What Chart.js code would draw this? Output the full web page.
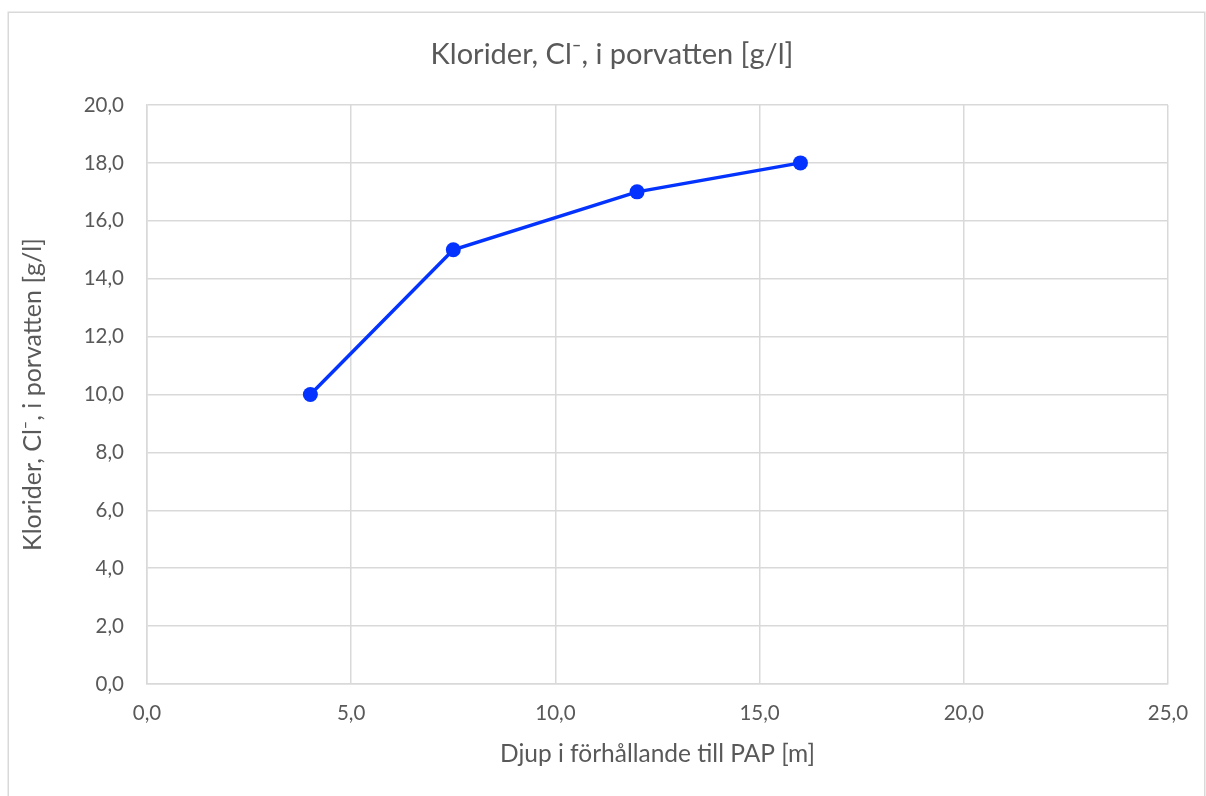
<!DOCTYPE html>
<html>
<head>
<meta charset="utf-8">
<script src="https://cdn.jsdelivr.net/npm/chart.js@4"></script>
<style>
  html, body { margin: 0; padding: 0; background: #ffffff; }
  #wrap { width: 1206px; height: 796px; }
</style>
</head>
<body>
<div id="wrap"><canvas id="c" width="1206" height="796"></canvas></div>
<script>
// Depth below reference level [m] and chloride content of the pore water [g/l]
const depth = [4.0, 7.5, 12.0, 16.0];
const chloride = [10.0, 15.0, 17.0, 18.0];

// Axis tick values
const xTickValues = [0, 5, 10, 15, 20, 25];
const yTickValues = [0, 2, 4, 6, 8, 10, 12, 14, 16, 18, 20];

const chartTitle = 'Klorider, Cl\u207B, i porvatten [g/l]';
const yAxisTitle = 'Klorider, Cl\u207B, i porvatten [g/l]';
const xAxisTitle = 'Djup i f\u00F6rh\u00E5llande till PAP [m]';

const FONT = 'Lato, "Open Sans", "DejaVu Sans", sans-serif';
const TEXT = '#595959';
const GRID = '#d9d9d9';
const LINE = '#0433ff';

const fmt = v => Number(v).toFixed(1).replace('.', ',');

// Light frame around the whole chart
const frame = {
  id: 'frame',
  beforeDraw(chart) {
    const ctx = chart.ctx;
    ctx.save();
    ctx.strokeStyle = GRID;
    ctx.lineWidth = 1.5;
    ctx.strokeRect(8.25, 12.25, 1196.5, 820);
    ctx.restore();
  }
};

new Chart(document.getElementById('c'), {
  type: 'line',
  data: {
    datasets: [{
      data: depth.map((d, i) => ({ x: d, y: chloride[i] })),
      borderColor: LINE,
      backgroundColor: LINE,
      borderWidth: 3.5,
      pointRadius: 7.5,
      pointHoverRadius: 7.5,
      pointBackgroundColor: LINE,
      pointBorderColor: LINE,
      pointBorderWidth: 0,
      tension: 0,
      fill: false
    }]
  },
  options: {
    responsive: false,
    animation: false,
    events: [],
    layout: { padding: { top: 12, left: 18, right: 0, bottom: 0 } },
    plugins: {
      legend: { display: false },
      tooltip: { enabled: false },
      title: {
        display: true,
        text: chartTitle,
        color: TEXT,
        font: { family: FONT, size: 29, weight: 'normal' },
        padding: { top: 25.6, bottom: 32.6 }
      }
    },
    scales: {
      x: {
        type: 'linear',
        min: 0,
        max: 25,
        afterBuildTicks(s) { s.ticks = xTickValues.map(v => ({ value: v })); },
        afterFit(s) { s.height = 112; },
        grid: { color: GRID, lineWidth: 1.5, drawTicks: false },
        border: { color: GRID, width: 1.5 },
        ticks: {
          color: TEXT,
          font: { family: FONT, size: 20.5 },
          padding: 17,
          maxRotation: 0,
          callback: v => fmt(v)
        },
        title: {
          display: true,
          text: xAxisTitle,
          color: TEXT,
          font: { family: FONT, size: 24.5 },
          padding: { top: 8, bottom: 27 }
        }
      },
      y: {
        type: 'linear',
        min: 0,
        max: 20,
        afterBuildTicks(s) { s.ticks = yTickValues.map(v => ({ value: v })); },
        afterFit(s) { s.width = 129; },
        grid: { color: GRID, lineWidth: 1.5, drawTicks: false },
        border: { color: GRID, width: 1.5 },
        ticks: {
          color: TEXT,
          font: { family: FONT, size: 20.5 },
          padding: 23,
          callback: v => fmt(v)
        },
        title: {
          display: true,
          text: yAxisTitle,
          color: TEXT,
          font: { family: FONT, size: 25 },
          padding: { top: 0, bottom: 0 }
        }
      },
      // empty margin on the right of the plot area
      margin: {
        type: 'linear',
        position: 'right',
        display: true,
        afterFit(s) { s.width = 38; },
        grid: { display: false, drawTicks: false },
        border: { display: false },
        ticks: { display: false }
      }
    }
  },
  plugins: [frame]
});
</script>
</body>
</html>
